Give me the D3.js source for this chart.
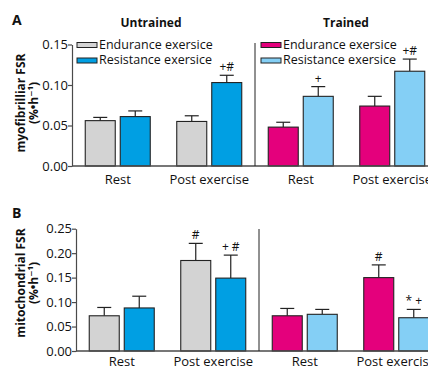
<!DOCTYPE html>
<html>
<head>
<meta charset="utf-8">
<script src="https://cdn.jsdelivr.net/npm/d3@7/dist/d3.min.js"></script>
<style>
  html, body { margin: 0; padding: 0; background: #fff; }
  svg { display: block; font-family: "Open Sans", "DejaVu Sans", sans-serif; }
</style>
</head>
<body>
<svg id="chart" width="428" height="367"></svg>
<script>
// Groups along the x axis: two cohorts, each measured at rest and after exercise
const groupLabels = ["Rest", "Post exercise", "Rest", "Post exercise"];
const groupCohort = ["Untrained", "Untrained", "Trained", "Trained"];
const cohorts = ["Untrained", "Trained"];
const seriesNames = ["Endurance exersice", "Resistance exersice"];

// Myofibrillar FSR (%·h⁻¹): mean and upper SEM per group
const myoEndurance     = [0.056, 0.055, 0.048, 0.074];
const myoEnduranceSE   = [0.004, 0.007, 0.006, 0.012];
const myoResistance    = [0.061, 0.103, 0.086, 0.117];
const myoResistanceSE  = [0.007, 0.009, 0.012, 0.015];
const myoEnduranceSig  = ["", "", "", ""];
const myoResistanceSig = ["", "+#", "+", "+#"];

// Mitochondrial FSR (%·h⁻¹)
const mitoEndurance     = [0.072, 0.185, 0.072, 0.150];
const mitoEnduranceSE   = [0.017, 0.035, 0.015, 0.026];
const mitoResistance    = [0.088, 0.149, 0.075, 0.068];
const mitoResistanceSE  = [0.024, 0.047, 0.010, 0.017];
const mitoEnduranceSig  = ["", "#", "", "#"];
const mitoResistanceSig = ["", "+ #", "", "* +"];

const myoTicks  = [0, 0.05, 0.10, 0.15];
const mitoTicks = [0, 0.05, 0.10, 0.15, 0.20, 0.25];

// Fill colours: [cohort][series]
const palette = {
  Untrained: ["#d3d3d3", "#009fe3"],
  Trained:   ["#e4007c", "#84cff5"]
};

const svg = d3.select("#chart");
const axisColor = "#4a4a4a";

function panel(opts) {
  const g = svg.append("g");
  const y = d3.scaleLinear().domain([0, opts.yMax]).range([opts.y0, opts.yTop]);
  const x = d3.scaleBand().domain(d3.range(groupLabels.length))
    .range([opts.x0, opts.x0 + 4 * 91.5]).padding(0);
  const xs = d3.scaleBand().domain([0, 1]).range([13.25, 78.25]).paddingInner(5 / 35).paddingOuter(0);

  // panel letter
  g.append("text").attr("x", 12).attr("y", opts.letterY)
    .attr("font-size", 14).attr("font-weight", "bold").attr("fill", "#111").text(opts.letter);

  // y axis title
  const tt = g.append("text")
    .attr("transform", `translate(${opts.titleX},${opts.titleY}) rotate(-90)`)
    .attr("text-anchor", "middle").attr("font-size", 12).attr("font-weight", "bold").attr("fill", "#111");
  tt.append("tspan").attr("x", 0).attr("dy", 0).text(opts.title);
  tt.append("tspan").attr("x", 0).attr("dy", 13).text("(%•h⁻¹)");

  // bars
  const bars = [];
  groupLabels.forEach((lab, i) => {
    opts.series.forEach((s, j) => {
      bars.push({ i, j, v: s.mean[i], e: s.se[i], sig: s.sig[i], cohort: groupCohort[i] });
    });
  });

  const cx = d => x(d.i) + xs(d.j) + xs.bandwidth() / 2;
  const bg = g.selectAll("g.bar").data(bars).join("g").attr("class", "bar");
  bg.append("line")
    .attr("x1", cx).attr("x2", cx)
    .attr("y1", d => y(d.v)).attr("y2", d => y(d.v + d.e))
    .attr("stroke", "#222").attr("stroke-width", 1.2);
  bg.append("line")
    .attr("x1", d => cx(d) - 7).attr("x2", d => cx(d) + 7)
    .attr("y1", d => y(d.v + d.e)).attr("y2", d => y(d.v + d.e))
    .attr("stroke", "#222").attr("stroke-width", 1.2);
  bg.append("rect")
    .attr("x", d => x(d.i) + xs(d.j))
    .attr("width", xs.bandwidth())
    .attr("y", d => y(d.v))
    .attr("height", d => y(0) - y(d.v))
    .attr("fill", d => palette[d.cohort][d.j])
    .attr("stroke", "#222").attr("stroke-width", 1.1);
  bg.filter(d => d.sig).append("text")
    .attr("x", cx)
    .attr("y", d => y(d.v + d.e) - 4)
    .attr("text-anchor", "middle").attr("font-size", 12).attr("fill", "#111")
    .text(d => d.sig);

  // y axis
  const ya = g.append("g").attr("transform", `translate(${opts.x0},0)`)
    .call(d3.axisLeft(y).tickValues(opts.ticks).tickFormat(d3.format(".2f")).tickSize(4).tickSizeOuter(0));
  ya.select(".domain").attr("stroke", axisColor).attr("stroke-width", 1.2);
  ya.selectAll(".tick line").attr("stroke", axisColor).attr("stroke-width", 1.2);
  ya.selectAll(".tick text").attr("font-size", 13).attr("fill", "#111")
    .attr("font-family", "'Open Sans', sans-serif").attr("x", -4);

  // x baseline and group labels
  g.append("line").attr("x1", opts.x0).attr("x2", 428).attr("y1", y(0)).attr("y2", y(0))
    .attr("stroke", axisColor).attr("stroke-width", 1.4);
  g.selectAll("text.cat").data(groupLabels).join("text").attr("class", "cat")
    .attr("x", (d, i) => x(i) + x.bandwidth() / 2).attr("y", y(0) + opts.catDy)
    .attr("text-anchor", "middle").attr("font-size", 13).attr("fill", "#111").text(d => d);

  // divider between cohorts
  g.append("line").attr("x1", x(2)).attr("x2", x(2)).attr("y1", opts.dividerTop).attr("y2", y(0))
    .attr("stroke", "#222").attr("stroke-width", 1);

  return { x, y };
}

panel({
  letter: "A", letterY: 25, x0: 72, y0: 166, yTop: 44.5, yMax: 0.15, ticks: myoTicks,
  title: "myofibrilliar FSR", titleX: 25, titleY: 103, dividerTop: 43, catDy: 17.5,
  series: [
    { mean: myoEndurance, se: myoEnduranceSE, sig: myoEnduranceSig },
    { mean: myoResistance, se: myoResistanceSE, sig: myoResistanceSig }
  ]
});

panel({
  letter: "B", letterY: 218, x0: 76, y0: 351, yTop: 228.7, yMax: 0.25, ticks: mitoTicks,
  title: "mitochondrial FSR", titleX: 25, titleY: 283, dividerTop: 229, catDy: 15,
  series: [
    { mean: mitoEndurance, se: mitoEnduranceSE, sig: mitoEnduranceSig },
    { mean: mitoResistance, se: mitoResistanceSE, sig: mitoResistanceSig }
  ]
});

// cohort headings and legends (panel A)
const headingX = [151, 346];
const legendX = [77, 261];
cohorts.forEach((c, k) => {
  svg.append("text").attr("x", headingX[k]).attr("y", 26.5).attr("text-anchor", "middle")
    .attr("font-size", 12).attr("font-weight", "bold").attr("fill", "#111").text(c);
  seriesNames.forEach((s, j) => {
    const cy = 45 + j * 15.5;
    svg.append("rect").attr("x", legendX[k]).attr("y", cy - 2.5).attr("width", 20).attr("height", 5)
      .attr("fill", palette[c][j]).attr("stroke", "#222").attr("stroke-width", 1);
    svg.append("text").attr("x", legendX[k] + 22).attr("y", cy + 3.5)
      .attr("font-size", 12.5).attr("fill", "#111").text(s);
  });
});
</script>
</body>
</html>
